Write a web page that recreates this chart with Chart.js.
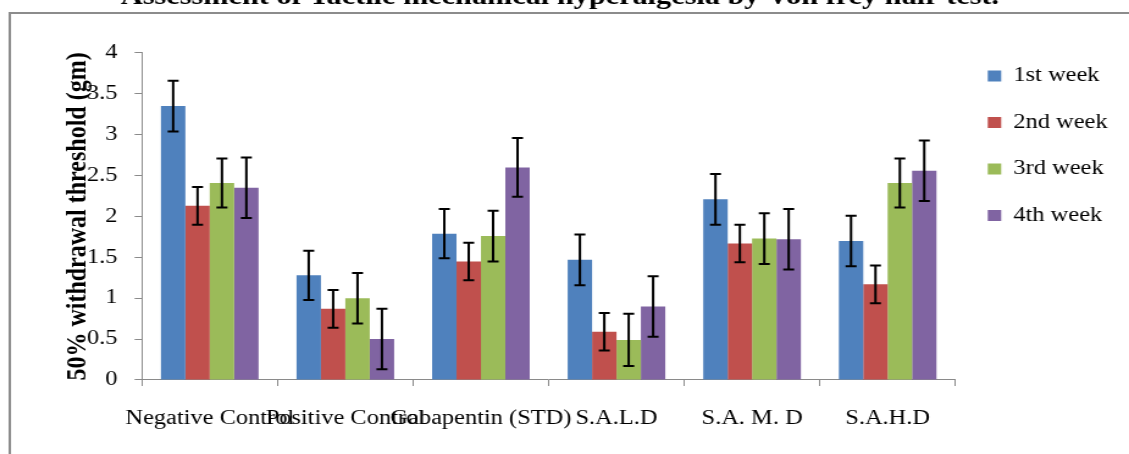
<!DOCTYPE html>
<html>
<head>
<meta charset="utf-8">
<script src="https://cdn.jsdelivr.net/npm/chart.js@4.4.1/dist/chart.umd.min.js"></script>
<style>
  html, body { margin: 0; padding: 0; overflow: hidden; background: #fff; }
</style>
</head>
<body>
<!-- the reference picture is stretched sideways, so the canvas is drawn narrow and scaled up -->
<canvas id="myChart" width="925" height="454" style="display:block;width:1129px;height:454px"></canvas>
<script>
const categories = ['Negative Control', 'Positive Control', 'Gabapentin (STD)', 'S.A.L.D', 'S.A. M. D', 'S.A.H.D'];
const seriesNames = ['1st week', '2nd week', '3rd week', '4th week'];

const week1 = [3.35, 1.28, 1.79, 1.47, 2.21, 1.70];
const week2 = [2.13, 0.87, 1.45, 0.59, 1.67, 1.17];
const week3 = [2.41, 1.00, 1.76, 0.49, 1.73, 2.41];
const week4 = [2.35, 0.50, 2.60, 0.90, 1.72, 2.56];

const err1 = [0.31, 0.30, 0.30, 0.31, 0.31, 0.31];
const err2 = [0.23, 0.23, 0.23, 0.23, 0.23, 0.23];
const err3 = [0.30, 0.31, 0.31, 0.32, 0.31, 0.30];
const err4 = [0.37, 0.37, 0.36, 0.37, 0.37, 0.37];

const yTickLabels = ['0', '0.5', '1', '1.5', '2', '2.5', '3', '3.5', '4'];

const colors = ['#4F81BD', '#C0504D', '#9BBB59', '#8064A2'];
const seriesValues = [week1, week2, week3, week4];
const seriesErrors = [err1, err2, err3, err4];

const serif = 'Liberation Serif';
const axisGrey = '#8a8a8a';

// grey frame and white page behind the chart
const framePlugin = {
  id: 'frame',
  beforeDraw(chart) {
    const ctx = chart.ctx;
    ctx.save();
    ctx.fillStyle = '#fff';
    ctx.fillRect(0, 0, chart.width, chart.height);
    ctx.strokeStyle = '#8c8c8c';
    ctx.lineWidth = 2;
    ctx.beginPath();
    ctx.moveTo(chart.width + 5, 13);
    ctx.lineTo(8, 13);
    ctx.lineTo(8, chart.height + 5);
    ctx.stroke();
    ctx.restore();
  }
};

// error bars, placed with the y scale
const errorBars = {
  id: 'errorBars',
  afterDatasetsDraw(chart) {
    const ctx = chart.ctx;
    const yScale = chart.scales.y;
    const capHalf = 4.5;
    ctx.save();
    ctx.strokeStyle = '#000';
    ctx.lineWidth = 2;
    chart.data.datasets.forEach((ds, i) => {
      const meta = chart.getDatasetMeta(i);
      meta.data.forEach((bar, j) => {
        const v = ds.data[j];
        const e = seriesErrors[i][j];
        const top = yScale.getPixelForValue(v + e);
        const bottom = yScale.getPixelForValue(v - e);
        ctx.beginPath();
        ctx.moveTo(bar.x, top);
        ctx.lineTo(bar.x, bottom);
        ctx.moveTo(bar.x - capHalf, top);
        ctx.lineTo(bar.x + capHalf, top);
        ctx.moveTo(bar.x - capHalf, bottom);
        ctx.lineTo(bar.x + capHalf, bottom);
        ctx.stroke();
      });
    });
    ctx.restore();
  }
};

const chartData = {
  labels: categories,
  datasets: seriesNames.map((name, i) => ({
    label: name,
    data: seriesValues[i],
    backgroundColor: colors[i],
    borderWidth: 0,
    barPercentage: 1.0,
    categoryPercentage: 0.72
  }))
};

const chartConfig = {
  type: 'bar',
  data: chartData,
  plugins: [framePlugin, errorBars],
  options: {
    responsive: false,
    animation: false,
    devicePixelRatio: 1,
    layout: {
      padding: { left: 0, top: 39.5, right: 7.5, bottom: 0 }
    },
    plugins: {
      title: {
        display: true,
        text: 'Assessment of Tactile mechanical hyperalgesia by Von frey hair test.',
        color: '#000',
        font: { family: serif, size: 24.8, weight: 'bold' },
        padding: { top: -56.8, bottom: 40.5 }
      },
      legend: {
        position: 'right',
        align: 'start',
        labels: {
          color: '#000',
          font: { family: serif, size: 20 },
          boxWidth: 11,
          boxHeight: 11,
          padding: 26.5
        }
      },
      tooltip: { enabled: false }
    },
    scales: {
      x: {
        grid: {
          drawOnChartArea: false,
          drawTicks: true,
          tickLength: 6,
          color: axisGrey
        },
        border: { color: axisGrey, width: 1 },
        ticks: {
          color: '#000',
          font: { family: serif, size: 20 },
          autoSkip: false,
          maxRotation: 0,
          minRotation: 0,
          padding: 21
        },
        afterFit(scale) { scale.height = 74; }
      },
      y: {
        min: 0,
        max: 4,
        grid: {
          drawOnChartArea: false,
          drawTicks: true,
          tickLength: 6,
          color: axisGrey
        },
        border: { color: axisGrey, width: 1 },
        ticks: {
          stepSize: 0.5,
          color: '#000',
          font: { family: serif, size: 20 },
          padding: 14,
          callback: (value, index) => yTickLabels[index]
        },
        title: {
          display: true,
          text: '50% withdrawal threshold (gm)',
          color: '#000',
          font: { family: serif, size: 24, weight: 'bold' },
          padding: { top: 49.5, bottom: 0 }
        },
        afterFit(scale) { scale.width = 116.3; }
      }
    }
  }
};

const chartCanvas = document.getElementById('myChart');
const myChart = new Chart(chartCanvas.getContext('2d'), chartConfig);
</script>
</body>
</html>
